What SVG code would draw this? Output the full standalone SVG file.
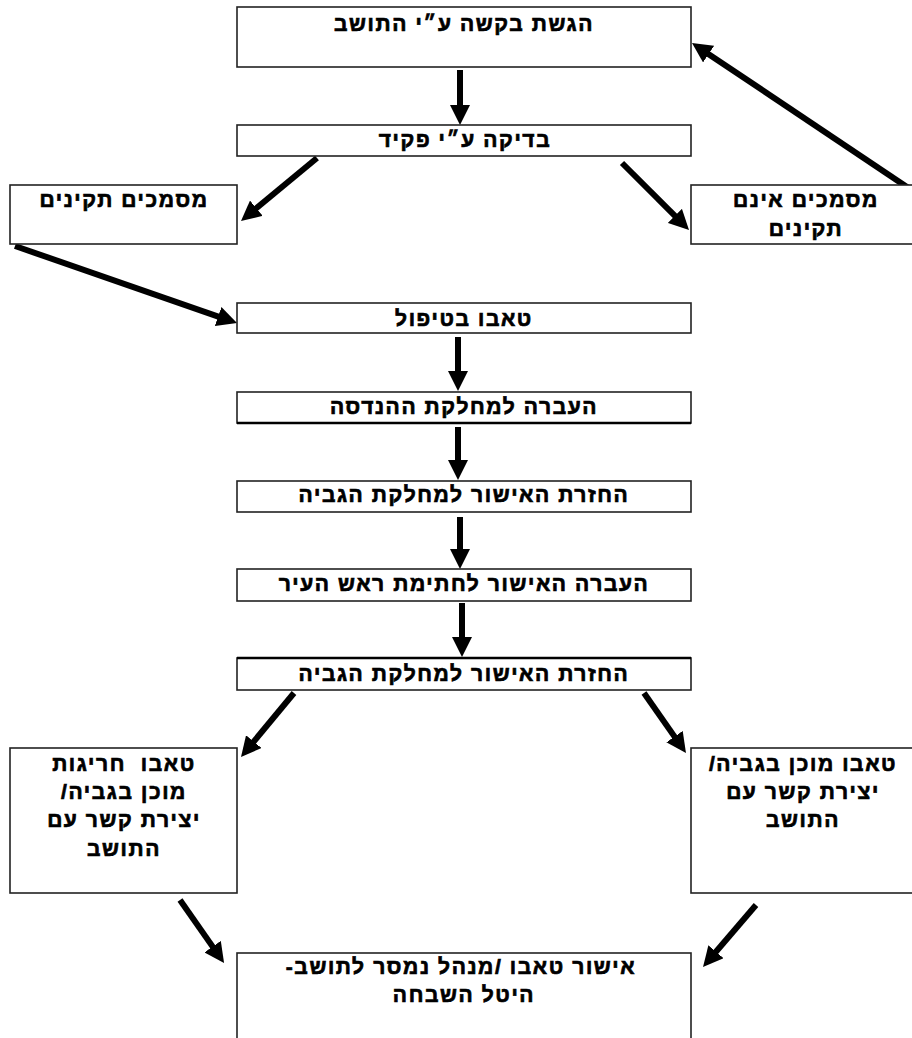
<svg xmlns="http://www.w3.org/2000/svg" width="912" height="1038" viewBox="0 0 912 1038">
<style>
.box{fill:#fff;stroke:#222;stroke-width:1.6}
.t{font-family:"Liberation Sans","DejaVu Sans",sans-serif;font-weight:bold;font-size:21px;letter-spacing:1.6px;fill:#000;stroke:#000;stroke-width:0.7;text-anchor:middle;direction:rtl}
.c{stroke:#000;stroke-width:6;fill:none;marker-end:url(#ah)}
</style>
<defs>
<marker id="ah" markerUnits="userSpaceOnUse" markerWidth="20" markerHeight="20" refX="4" refY="10" orient="auto">
<path d="M0,0 L20,10 L0,20 z" fill="#000"/>
</marker>
</defs>
<rect width="912" height="1038" fill="#fff"/>
<g id="connectors">
<line class="c" x1="460" y1="70" x2="460" y2="109"/>
<line class="c" x1="317" y1="158" x2="253.3" y2="210.8"/>
<line class="c" x1="622" y1="163" x2="677.7" y2="218.7"/>
<line class="c" x1="916" y1="193" x2="705.3" y2="51.9"/>
<line class="c" x1="15" y1="246" x2="221.9" y2="317.8"/>
<line class="c" x1="458" y1="337" x2="458" y2="375"/>
<line class="c" x1="458" y1="427" x2="458" y2="464"/>
<line class="c" x1="460" y1="517" x2="460" y2="553"/>
<line class="c" x1="462" y1="603" x2="462" y2="641"/>
<line class="c" x1="294" y1="693" x2="251.2" y2="744.7"/>
<line class="c" x1="644" y1="693" x2="676.8" y2="739.9"/>
<line class="c" x1="180" y1="900" x2="214.9" y2="949.9"/>
<line class="c" x1="756" y1="905" x2="713.4" y2="954.8"/>
</g>
<g id="n1"><rect class="box" x="237" y="7" width="454" height="60"/><text class="t" x="464" y="31">הגשת בקשה ע״י התושב</text></g>
<g id="n2"><rect class="box" x="237" y="125" width="454" height="31"/><text class="t" x="465" y="147">בדיקה ע״י פקיד</text></g>
<g id="n3"><rect class="box" x="10" y="185" width="227" height="59"/><text class="t" x="124" y="207">מסמכים תקינים</text></g>
<g id="n4"><rect class="box" x="691" y="185" width="230" height="59"/><text class="t" x="806" y="207">מסמכים אינם</text><text class="t" x="806" y="236">תקינים</text></g>
<g id="n5"><rect class="box" x="237" y="303" width="454" height="30"/><text class="t" x="464" y="326">טאבו בטיפול</text></g>
<g id="n6"><rect class="box" x="237" y="392" width="454" height="31"/><line x1="237" y1="423" x2="691" y2="423" stroke="#000" stroke-width="2.5"/><text class="t" x="464" y="414">העברה למחלקת ההנדסה</text></g>
<g id="n7"><rect class="box" x="237" y="481" width="454" height="31"/><text class="t" x="464" y="502">החזרת האישור למחלקת הגביה</text></g>
<g id="n8"><rect class="box" x="237" y="569" width="454" height="32"/><text class="t" x="464" y="591">העברה האישור לחתימת ראש העיר</text></g>
<g id="n9"><rect class="box" x="237" y="658" width="454" height="32"/><line x1="237" y1="658" x2="691" y2="658" stroke="#000" stroke-width="2.5"/><text class="t" x="464" y="681">החזרת האישור למחלקת הגביה</text></g>
<g id="n10"><rect class="box" x="10" y="748" width="227" height="145"/>
<text class="t" x="124" y="771">טאבו&#160; חריגות</text>
<text class="t" x="124" y="799">מוכן בגביה/</text>
<text class="t" x="124" y="827">יצירת קשר עם</text>
<text class="t" x="124" y="856">התושב</text></g>
<g id="n11"><rect class="box" x="691" y="748" width="230" height="145"/>
<text class="t" x="803" y="771">טאבו מוכן בגביה/</text>
<text class="t" x="803" y="799">יצירת קשר עם</text>
<text class="t" x="803" y="827">התושב</text></g>
<g id="n12"><rect class="box" x="237" y="953" width="454" height="95"/>
<text class="t" x="461" y="974">אישור טאבו /מנהל נמסר לתושב-</text>
<text class="t" x="464" y="1002">היטל השבחה</text></g>
</svg>
